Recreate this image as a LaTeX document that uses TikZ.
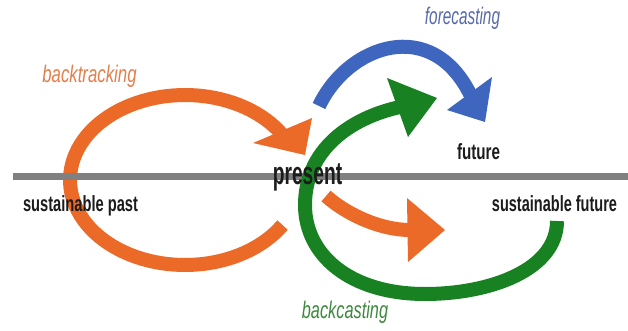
\documentclass[tikz,border=0pt]{standalone}
\usepackage{fontspec}
\setmainfont{Liberation Sans}
\usepackage{graphicx}
\definecolor{orangeA}{RGB}{236,106,40}
\definecolor{orangeT}{RGB}{226,128,78}
\definecolor{blueA}{RGB}{62,102,190}
\definecolor{blueT}{RGB}{88,106,170}
\definecolor{greenA}{RGB}{24,130,34}
\definecolor{greenT}{RGB}{62,136,62}
\definecolor{grayL}{RGB}{128,128,128}
\definecolor{txt}{RGB}{28,28,28}
\begin{document}
\begin{tikzpicture}[x=1pt,y=-1pt,
  shaft/.style={line width=14pt, line cap=butt},
  lbl/.style={inner sep=0pt, anchor=base},
  bold22/.style={lbl, text=txt, font=\fontsize{22}{26}\selectfont\bfseries},
  ital24/.style={lbl, font=\fontsize{24}{28}\selectfont\itshape}]
\useasboundingbox (0,0) rectangle (628,331);
\fill[white] (0,0) rectangle (628,331);
% named points
\coordinate (lineL) at (13,176);
\coordinate (lineR) at (628,176);
\coordinate (btS) at ({185+115*cos(32)},{180+85*sin(32)});
\coordinate (btE) at ({185+115*cos(328)},{180+85*sin(328)});
\coordinate (btA) at (253,143);
\coordinate (btB) at (312,118);
\coordinate (btT) at (305,155);
\coordinate (gS) at (557,221);
\coordinate (gE) at (400,107);
\coordinate (gA) at (387,78);
\coordinate (gB) at (408,137);
\coordinate (gT) at (437,98);
\coordinate (bS) at (319,106);
\coordinate (bE) at (471,96);
\coordinate (bA) at (447,110);
\coordinate (bB) at (492,77);
\coordinate (bT) at (485,122);
\coordinate (oS) at (326,196);
\coordinate (oE) at (410,230);
\coordinate (oA) at (407,198);
\coordinate (oB) at (408,262);
\coordinate (oT) at (445,230);
% backtracking loop
\draw[shaft, orangeA] plot[domain=32:328, samples=90] ({185+115*cos(\x)},{180+85*sin(\x)});
\fill[orangeA] (btA) -- (btB) -- (btT) -- cycle;
% time line
\draw[grayL, line width=7pt] (lineL) -- (lineR);
% backcasting loop
\draw[shaft, greenA] (gS) .. controls (557,270) and (490,294) .. (425,294)
  .. controls (350,294) and (305,255) .. (305,205)
  .. controls (305,150) and (350,118) .. (gE);
\fill[greenA] (gA) -- (gT) -- (gB) -- cycle;
% forecasting
\draw[shaft, blueA] (bS) .. controls (348,45) and (432,15) .. (bE);
\fill[blueA] (bA) -- (bB) -- (bT) -- cycle;
% present to future (orange)
\draw[shaft, orangeA] (oS) .. controls (346,214) and (380,230) .. (oE);
\fill[orangeA] (oA) -- (oT) -- (oB) -- cycle;
% labels
\node[ital24, text=orangeT] (backtracking) at (89.5,83) {\scalebox{0.70}[1]{backtracking}};
\node[ital24, text=blueT] (forecasting) at (462.5,25) {\scalebox{0.64}[1]{forecasting}};
\node[ital24, text=greenT] (backcasting) at (345,318) {\scalebox{0.68}[1]{backcasting}};
\node[lbl, text=txt, font=\fontsize{32}{36}\selectfont\bfseries] (present) at (307.5,184) {\scalebox{0.6}[1]{present}};
\node[bold22] (future) at (478.5,160) {\scalebox{0.69}[1]{future}};
\node[bold22] (sfuture) at (554.5,211) {\scalebox{0.66}[1]{sustainable future}};
\node[bold22] (spast) at (80.5,211) {\scalebox{0.667}[1]{sustainable past}};
\end{tikzpicture}
\end{document}
